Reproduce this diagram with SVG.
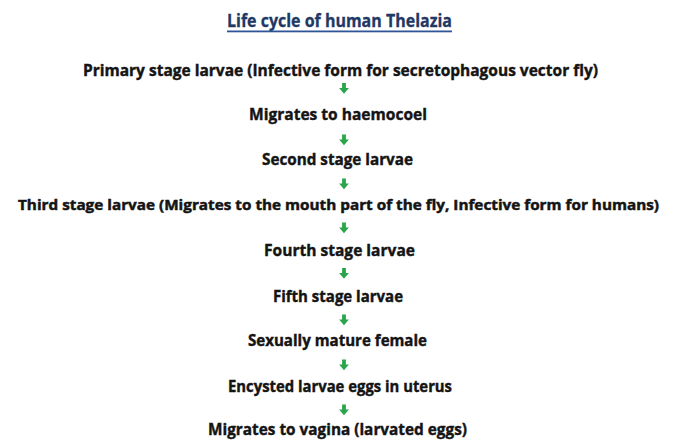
<svg xmlns="http://www.w3.org/2000/svg" width="673" height="440" viewBox="0 0 673 440">
<style>
.t{font-family:"Open Sans","Liberation Sans",sans-serif;font-weight:700;font-size:16px;fill:#141414;stroke:#141414;stroke-width:0.4px}
.title{font-family:"Open Sans","Liberation Sans",sans-serif;font-weight:700;font-size:17px;fill:#1f3864;stroke:#1f3864;stroke-width:0.3px}
.arr{fill:#2aa54b}
</style>
<defs>
<path id="dn" d="M-1.9,0 h3.8 v5 h3 l-4.9,5.8 l-4.9,-5.8 h3 z"/>
</defs>
<rect width="673" height="440" fill="#ffffff"/>
<g id="title">
<text class="title" x="227" y="27" textLength="225" lengthAdjust="spacingAndGlyphs">Life cycle of human Thelazia</text>
<rect x="227" y="30.5" width="225" height="1.8" fill="#2f5597"/>
</g>
<g id="n1"><text class="t" x="83" y="76" textLength="515" lengthAdjust="spacingAndGlyphs">Primary stage larvae (Infective form for secretophagous vector fly)</text></g>
<g id="n2"><text class="t" x="249" y="120" textLength="178" lengthAdjust="spacingAndGlyphs">Migrates to haemocoel</text></g>
<g id="n3"><text class="t" x="262" y="165" textLength="151" lengthAdjust="spacingAndGlyphs">Second stage larvae</text></g>
<g id="n4"><text class="t" x="18" y="210" style="font-size:15px;stroke-width:0.5px" textLength="641" lengthAdjust="spacingAndGlyphs">Third stage larvae (Migrates to the mouth part of the fly, Infective form for humans)</text></g>
<g id="n5"><text class="t" x="264" y="256" textLength="151" lengthAdjust="spacingAndGlyphs">Fourth stage larvae</text></g>
<g id="n6"><text class="t" x="273" y="302" textLength="130" lengthAdjust="spacingAndGlyphs">Fifth stage larvae</text></g>
<g id="n7"><text class="t" x="248" y="346" textLength="179" lengthAdjust="spacingAndGlyphs">Sexually mature female</text></g>
<g id="n8"><text class="t" x="228" y="392" textLength="224" lengthAdjust="spacingAndGlyphs">Encysted larvae eggs in uterus</text></g>
<g id="n9"><text class="t" x="208" y="435" textLength="259" lengthAdjust="spacingAndGlyphs">Migrates to vagina (larvated eggs)</text></g>
<g id="connectors" class="arr">
<use href="#dn" x="344" y="83"/>
<use href="#dn" x="344" y="134.5"/>
<use href="#dn" x="344" y="178.5"/>
<use href="#dn" x="344" y="222.5"/>
<use href="#dn" x="344" y="268"/>
<use href="#dn" x="344" y="314.5"/>
<use href="#dn" x="344" y="359.5"/>
<use href="#dn" x="344" y="404.5"/>
</g>
</svg>
